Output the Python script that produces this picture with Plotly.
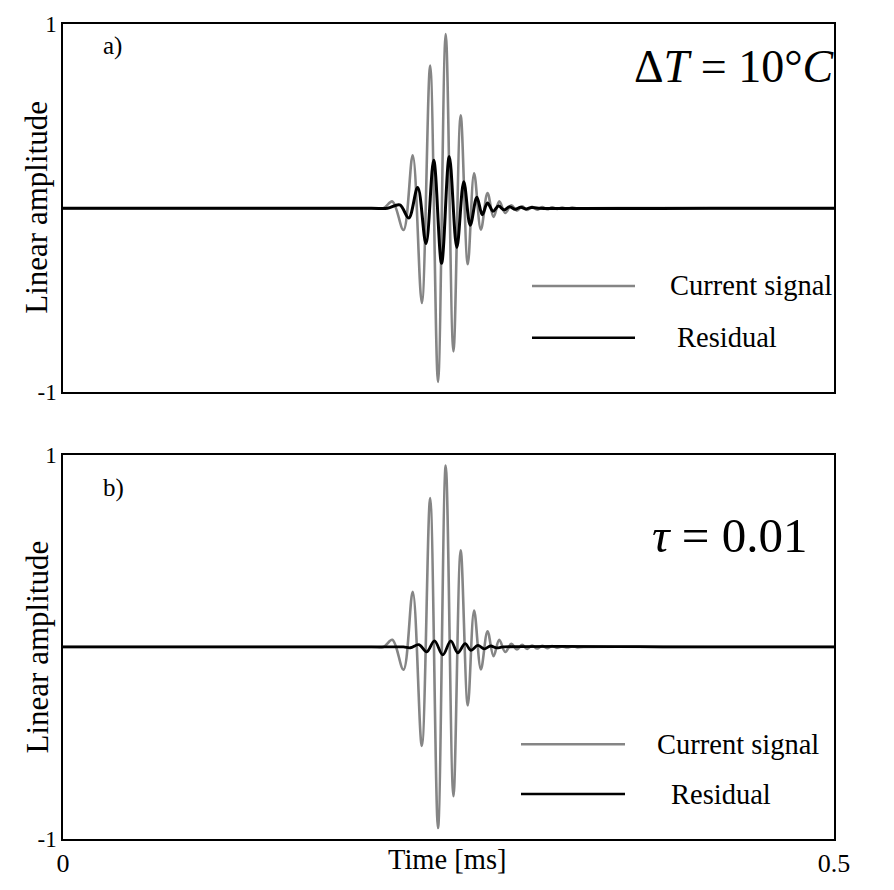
import plotly.graph_objects as go

# ---------------- data ----------------
# Current signal (same in both panels): times in ms and amplitudes at its turning points
t_current = [0.0, 0.100, 0.200, 0.2078, 0.2136, 0.2208, 0.2268, 0.2327, 0.2381, 0.2432,
             0.2482, 0.2532, 0.2579, 0.2625, 0.2666, 0.2710, 0.2753, 0.2792,
             0.2829, 0.2868, 0.2907, 0.2944, 0.2977, 0.3010, 0.3042, 0.3075,
             0.3107, 0.3140, 0.3172, 0.3205, 0.3237, 0.3269, 0.3302, 0.3334,
             0.3377, 0.42, 0.5]
current = [0.0, 0.0, 0.0, 0.0, 0.037, -0.118, 0.287, -0.515, 0.775, -0.943,
           0.945, -0.777, 0.504, -0.304, 0.190, -0.117, 0.082, -0.048,
           0.037, -0.026, 0.016, -0.013, 0.011, -0.010, 0.008, -0.008,
           0.006, -0.006, 0.005, -0.004, 0.003, -0.003, 0.003, -0.002,
           0.0, 0.0, 0.0]

# Residual, panel a (dT = 10 C)
t_resid_a = [0.0, 0.100, 0.200, 0.2104, 0.2184, 0.2242, 0.2300, 0.2354, 0.2404,
             0.2455, 0.2505, 0.2554, 0.2599, 0.2641, 0.2684, 0.2719, 0.2753,
             0.2789, 0.2825, 0.2860, 0.2896, 0.2932, 0.2968, 0.3003, 0.3039,
             0.3084, 0.42, 0.5]
resid_a = [0.0, 0.0, 0.0, 0.0, 0.018, -0.053, 0.112, -0.192, 0.260,
           -0.299, 0.281, -0.213, 0.144, -0.092, 0.060, -0.035, 0.028,
           -0.016, 0.012, -0.009, 0.008, -0.006, 0.005, -0.004, 0.004,
           0.0, 0.0, 0.0]

# Residual, panel b (tau = 0.01)
t_resid_b = [0.0, 0.100, 0.210, 0.2208, 0.2253, 0.2308, 0.2359, 0.2409, 0.2463,
             0.2515, 0.2560, 0.2608, 0.2645, 0.2690, 0.2732, 0.2773, 0.2812,
             0.2857, 0.42, 0.5]
resid_b = [0.0, 0.0, 0.0, 0.0, -0.004, 0.012, -0.025, 0.032, -0.041,
           0.032, -0.030, 0.017, -0.017, 0.008, -0.010, 0.005, -0.005,
           0.0, 0.0, 0.0]

x_ticks = [0, 0.5]
x_ticktext = ["0", "0.5"]
y_ticks = [-1, 1]
y_ticktext = ["-1", "1"]

panel_labels = ["a)", "b)"]
panel_params = ["Δ<i>T</i> = 10°<i>C</i>", "<i>τ</i> = 0.01"]
legend_names = ["Current signal", "Residual"]
y_title = "Linear amplitude"
x_title = "Time [ms]"

# ---------------- layout geometry (pixels) ----------------
W, H = 894, 890
L, R = 63, 834
T, B = 17, 851
PW, PH = R - L, B - T

def px(x):
    return (x - L) / PW

def py(y):
    return (B - y) / PH

FONT = "Liberation Serif"
GRAY = "#858585"

fig = go.Figure()

fig.add_trace(go.Scatter(x=t_current, y=current, mode="lines", line=dict(color=GRAY, width=2.6, shape="spline", smoothing=1.0),
                         xaxis="x", yaxis="y", showlegend=False))
fig.add_trace(go.Scatter(x=t_resid_a, y=resid_a, mode="lines", line=dict(color="black", width=3.0, shape="spline", smoothing=1.0),
                         xaxis="x", yaxis="y", showlegend=False))
fig.add_trace(go.Scatter(x=t_current, y=current, mode="lines", line=dict(color=GRAY, width=2.6, shape="spline", smoothing=1.0),
                         xaxis="x2", yaxis="y2", showlegend=False))
fig.add_trace(go.Scatter(x=t_resid_b, y=resid_b, mode="lines", line=dict(color="black", width=2.8, shape="spline", smoothing=1.0),
                         xaxis="x2", yaxis="y2", showlegend=False))

axis_common = dict(range=[0, 0.5], showgrid=False, zeroline=False, showline=True, linecolor="black",
                   linewidth=1.5, mirror=True, ticks="", tickfont=dict(family=FONT, size=26, color="black"))
yaxis_common = dict(range=[-1, 1], showgrid=False, zeroline=False, showline=True, linecolor="black",
                    linewidth=1.5, mirror=True, ticks="outside", ticklen=0, tickvals=y_ticks, ticktext=y_ticktext,
                    tickfont=dict(family=FONT, size=23, color="black"))

a_top, a_bot = 17, 394
b_top, b_bot = 458, 851

fig.update_layout(
    width=W, height=H,
    margin=dict(l=L, r=W - R, t=T, b=H - B, pad=0),
    paper_bgcolor="white", plot_bgcolor="white",
    xaxis=dict(axis_common, anchor="y", domain=[0, 1], showticklabels=False),
    yaxis=dict(yaxis_common, anchor="x", domain=[py(a_bot), py(a_top)]),
    xaxis2=dict(axis_common, anchor="y2", domain=[0, 1], tickvals=x_ticks, ticktext=x_ticktext,
                ticks="outside", ticklen=0),
    yaxis2=dict(yaxis_common, anchor="x2", domain=[py(b_bot), py(b_top)]),
)

ann = []
shapes = []
# panel labels
for lab, yc in zip(panel_labels, [40, 492]):
    ann.append(dict(x=px(101), y=py(yc), xref="paper", yref="paper", text=lab, showarrow=False,
                    xanchor="left", yanchor="middle", font=dict(family=FONT, size=25, color="black")))
# parameter equations
ann.append(dict(x=px(734), y=py(60), xref="paper", yref="paper", text=panel_params[0], showarrow=False,
                xanchor="center", yanchor="middle", font=dict(family=FONT, size=46, color="black")))
ann.append(dict(x=px(729), y=py(540), xref="paper", yref="paper", text=panel_params[1], showarrow=False,
                xanchor="center", yanchor="middle", font=dict(family=FONT, size=49, color="black")))
# y titles
for yc in [205, 655]:
    ann.append(dict(x=px(37), y=py(yc), xref="paper", yref="paper", text=y_title, showarrow=False,
                    textangle=-90, xanchor="center", yanchor="middle", font=dict(family=FONT, size=31, color="black")))
# x title
ann.append(dict(x=px(447), y=py(872), xref="paper", yref="paper", text=x_title, showarrow=False,
                xanchor="center", yanchor="middle", font=dict(family=FONT, size=28.5, color="black")))

# custom legends
leg = [
    # (line x0, x1, y gray, y black, text x gray, text x black)
    (532, 635, 285, 338, 668, 675),
    (521, 625, 754, 805, 655, 669),
]
for x0, x1, yg, yk, tg, tk in leg:
    shapes.append(dict(type="line", xref="paper", yref="paper", x0=px(x0), x1=px(x1), y0=py(yg), y1=py(yg),
                       line=dict(color=GRAY, width=2.5)))
    shapes.append(dict(type="line", xref="paper", yref="paper", x0=px(x0), x1=px(x1), y0=py(yk), y1=py(yk),
                       line=dict(color="black", width=2.5)))
    ann.append(dict(x=px(tg), y=py(yg), xref="paper", yref="paper", text=legend_names[0], showarrow=False,
                    xanchor="left", yanchor="middle", font=dict(family=FONT, size=28.5, color="black")))
    ann.append(dict(x=px(tk), y=py(yk), xref="paper", yref="paper", text=legend_names[1], showarrow=False,
                    xanchor="left", yanchor="middle", font=dict(family=FONT, size=28.5, color="black")))

fig.update_layout(annotations=ann, shapes=shapes)

fig.write_html("out.html")
